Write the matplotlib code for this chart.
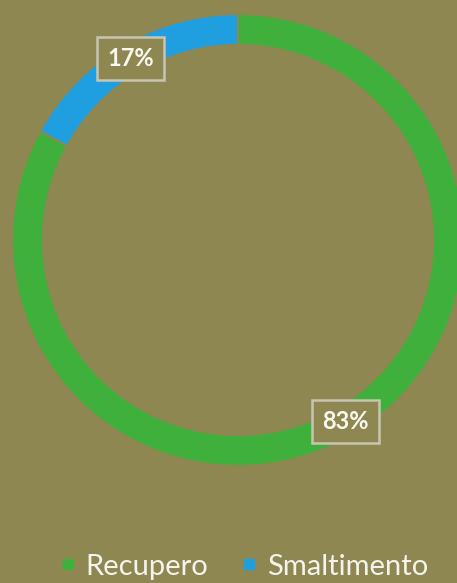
import matplotlib
matplotlib.use("Agg")
import numpy as np
from matplotlib import pyplot as plt
from matplotlib.lines import Line2D

# data
labels = ["Recupero", "Smaltimento"]
values = [83, 17]
colors = ["#3fb03b", "#1f9fe0"]
BG = "#8f8752"

fig = plt.figure(figsize=(4.57, 5.83), dpi=100, facecolor=BG)
ax = fig.add_axes([0, 0, 1, 1])
ax.set_facecolor(BG)

cx, cy, r = 238, 583 - 240, 226
wedges, _ = ax.pie(values, colors=colors, startangle=90, counterclock=False,
                   radius=r, center=(cx, cy),
                   wedgeprops=dict(width=31, edgecolor=BG, linewidth=1.5))

# percentage boxes at the middle of each ring segment
for w, v in zip(wedges, values):
    ang = np.deg2rad((w.theta1 + w.theta2) / 2)
    rm = r - 15
    ax.text(cx + rm * np.cos(ang), cy + rm * np.sin(ang), f"{v}%",
            ha="center", va="center", color="#f8f8f0", fontsize=17,
            fontweight="bold", family="Lato",
            bbox=dict(boxstyle="square,pad=0.42", facecolor=BG,
                      edgecolor="#c8c5b3", linewidth=1.8))

ax.set_xlim(0, 457)
ax.set_ylim(0, 583)
ax.set_aspect("equal")
ax.axis("off")

handles = [Line2D([], [], marker="s", linestyle="", color=c, markersize=6.5)
           for c in colors]
leg = fig.legend(handles, labels, loc="center", bbox_to_anchor=(0.535, 0.028),
                 ncol=2, frameon=False, handlelength=0.5, handletextpad=0.35,
                 columnspacing=1.15, borderpad=0, borderaxespad=0,
                 prop=dict(family="Lato", size=21))
for t in leg.get_texts():
    t.set_color("#f4f4ec")

fig.savefig("out.png", dpi=100, facecolor=BG)
